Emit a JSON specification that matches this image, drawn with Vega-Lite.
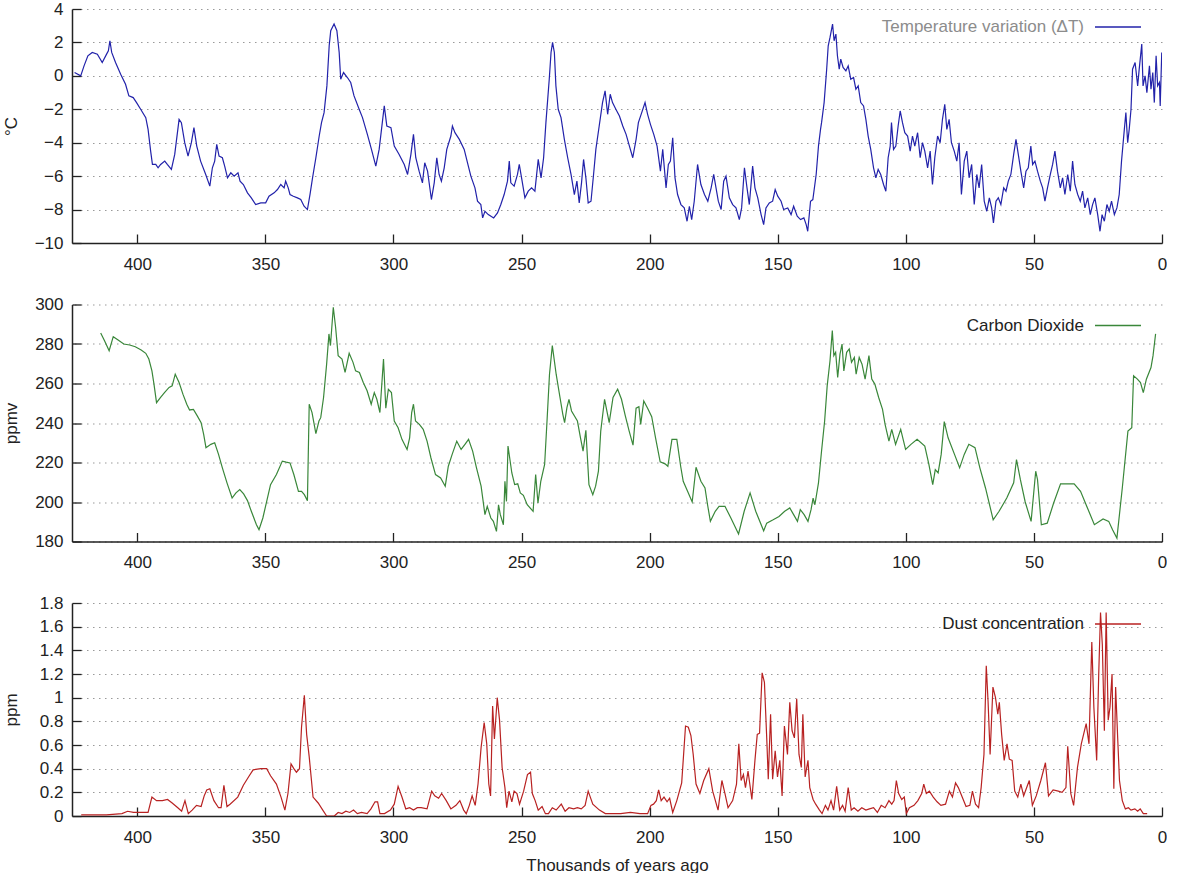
{
  "$schema": "https://vega.github.io/schema/vega-lite/v6.json",
  "background": "white",
  "padding": {"left": 2, "top": 0, "right": 0, "bottom": 0},
  "config": {
    "view": {"stroke": null},
    "font": "Liberation Sans",
    "axis": {
      "labelFont": "Liberation Sans", "labelFontSize": 17, "labelColor": "#222222",
      "titleFont": "Liberation Sans", "titleFontSize": 17, "titleFontWeight": "normal", "titleColor": "#222222",
      "domainColor": "#222222", "domainWidth": 1.5, "tickColor": "#222222", "tickWidth": 1.3, "tickSize": -9,
      "gridColor": "#9a9a9a", "gridDash": [1.5, 4.5], "gridWidth": 1.2, "labelOverlap": false, "labelFlush": false
    },
    "axisX": {"grid": false, "labelPadding": 22},
    "axisY": {"grid": true, "labelPadding": 18, "titleX": -52, "titleBaseline": "bottom", "titleAngle": -90},
    "legend": {
      "orient": "none", "legendX": 1022, "legendY": -3, "padding": 0, "symbolType": "stroke", "symbolSize": 2116,
      "symbolStrokeWidth": 1.3, "labelFont": "Liberation Sans", "labelFontSize": 17, "labelColor": "#222222",
      "labelAlign": "right", "labelOffset": -58, "labelLimit": 400
    }
  },
  "resolve": {"scale": {"color": "independent"}, "legend": {"color": "independent"}},
  "spacing": 61.5,
  "bounds": "flush",
  "datasets": {
    "temp": [
      {"age":424.5,"dT":0.2},{"age":422.1,"dT":0.0},{"age":420.8,"dT":0.6},{"age":419.3,"dT":1.2},{"age":417.6,"dT":1.4},{"age":415.6,"dT":1.3},{"age":413.7,"dT":0.8},{"age":412.0,"dT":1.3},{"age":411.3,"dT":1.5},{"age":410.7,"dT":2.1},{"age":410.0,"dT":1.4},{"age":408.5,"dT":0.8},{"age":406.5,"dT":0.1},{"age":404.6,"dT":-0.5},{"age":403.3,"dT":-1.2},{"age":401.6,"dT":-1.3},{"age":400.3,"dT":-1.6},{"age":398.7,"dT":-2.0},{"age":396.7,"dT":-2.5},{"age":395.8,"dT":-3.2},{"age":394.8,"dT":-4.5},{"age":394.1,"dT":-5.3},{"age":392.8,"dT":-5.3},{"age":391.9,"dT":-5.5},{"age":390.9,"dT":-5.3},{"age":389.3,"dT":-5.1},{"age":388.3,"dT":-5.3},{"age":386.7,"dT":-5.6},{"age":385.4,"dT":-4.7},{"age":383.7,"dT":-2.6},{"age":382.8,"dT":-2.8},{"age":381.5,"dT":-4.0},{"age":380.2,"dT":-4.8},{"age":378.9,"dT":-4.0},{"age":377.9,"dT":-3.1},{"age":376.8,"dT":-4.2},{"age":375.3,"dT":-5.1},{"age":373.3,"dT":-5.9},{"age":371.7,"dT":-6.6},{"age":370.7,"dT":-5.5},{"age":369.8,"dT":-5.1},{"age":369.0,"dT":-4.1},{"age":368.1,"dT":-4.8},{"age":366.8,"dT":-4.9},{"age":365.9,"dT":-5.4},{"age":364.8,"dT":-6.1},{"age":363.5,"dT":-5.8},{"age":362.2,"dT":-6.0},{"age":360.7,"dT":-5.8},{"age":359.9,"dT":-6.3},{"age":358.6,"dT":-6.5},{"age":357.0,"dT":-7.0},{"age":355.5,"dT":-7.3},{"age":353.8,"dT":-7.7},{"age":351.8,"dT":-7.6},{"age":349.9,"dT":-7.6},{"age":348.6,"dT":-7.2},{"age":346.6,"dT":-7.0},{"age":345.3,"dT":-6.8},{"age":344.0,"dT":-6.5},{"age":342.7,"dT":-6.7},{"age":342.1,"dT":-6.3},{"age":341.1,"dT":-6.7},{"age":340.4,"dT":-7.1},{"age":339.1,"dT":-7.2},{"age":337.5,"dT":-7.3},{"age":336.2,"dT":-7.4},{"age":334.9,"dT":-7.8},{"age":333.6,"dT":-8.0},{"age":332.6,"dT":-7.1},{"age":331.6,"dT":-6.1},{"age":330.3,"dT":-4.9},{"age":329.0,"dT":-3.6},{"age":328.1,"dT":-2.8},{"age":327.1,"dT":-2.2},{"age":326.0,"dT":-0.6},{"age":325.1,"dT":1.8},{"age":324.5,"dT":2.7},{"age":323.2,"dT":3.1},{"age":322.1,"dT":2.7},{"age":321.2,"dT":1.4},{"age":320.6,"dT":-0.2},{"age":319.5,"dT":0.2},{"age":318.0,"dT":-0.1},{"age":316.7,"dT":-0.4},{"age":315.4,"dT":-1.2},{"age":313.4,"dT":-2.0},{"age":312.1,"dT":-2.5},{"age":310.2,"dT":-3.5},{"age":308.6,"dT":-4.4},{"age":306.9,"dT":-5.4},{"age":305.6,"dT":-4.4},{"age":303.6,"dT":-1.8},{"age":302.6,"dT":-3.0},{"age":301.0,"dT":-3.1},{"age":299.7,"dT":-4.2},{"age":297.8,"dT":-4.7},{"age":295.8,"dT":-5.3},{"age":294.5,"dT":-5.9},{"age":293.2,"dT":-4.7},{"age":292.2,"dT":-3.5},{"age":291.3,"dT":-4.9},{"age":290.0,"dT":-5.7},{"age":288.7,"dT":-6.4},{"age":287.8,"dT":-5.2},{"age":286.7,"dT":-5.7},{"age":285.2,"dT":-7.4},{"age":284.1,"dT":-6.4},{"age":283.1,"dT":-4.9},{"age":282.2,"dT":-5.9},{"age":281.3,"dT":-6.3},{"age":280.2,"dT":-5.5},{"age":279.2,"dT":-4.4},{"age":277.6,"dT":-3.6},{"age":277.0,"dT":-3.0},{"age":276.0,"dT":-3.4},{"age":274.3,"dT":-3.8},{"age":272.4,"dT":-4.4},{"age":271.1,"dT":-5.2},{"age":269.8,"dT":-6.0},{"age":268.2,"dT":-6.7},{"age":267.2,"dT":-7.5},{"age":265.9,"dT":-7.7},{"age":265.2,"dT":-8.5},{"age":264.3,"dT":-8.1},{"age":263.0,"dT":-8.3},{"age":260.9,"dT":-8.5},{"age":259.4,"dT":-8.2},{"age":258.1,"dT":-7.7},{"age":256.8,"dT":-7.1},{"age":255.5,"dT":-6.3},{"age":254.8,"dT":-5.1},{"age":254.2,"dT":-6.4},{"age":252.9,"dT":-6.6},{"age":251.6,"dT":-5.9},{"age":250.9,"dT":-5.3},{"age":250.0,"dT":-6.1},{"age":248.7,"dT":-7.3},{"age":247.4,"dT":-6.9},{"age":246.1,"dT":-6.7},{"age":244.8,"dT":-6.9},{"age":243.5,"dT":-5.0},{"age":242.4,"dT":-6.1},{"age":241.4,"dT":-4.9},{"age":240.5,"dT":-2.8},{"age":239.2,"dT":-0.2},{"age":238.5,"dT":1.4},{"age":237.9,"dT":2.0},{"age":237.2,"dT":1.4},{"age":236.6,"dT":-0.6},{"age":235.7,"dT":-2.0},{"age":234.6,"dT":-2.5},{"age":233.3,"dT":-3.8},{"age":232.0,"dT":-4.9},{"age":230.7,"dT":-5.9},{"age":229.4,"dT":-7.1},{"age":228.4,"dT":-6.3},{"age":227.5,"dT":-7.6},{"age":226.6,"dT":-6.4},{"age":225.8,"dT":-5.0},{"age":224.9,"dT":-6.1},{"age":224.0,"dT":-7.6},{"age":222.9,"dT":-7.5},{"age":221.9,"dT":-5.9},{"age":221.0,"dT":-4.4},{"age":219.7,"dT":-3.0},{"age":218.4,"dT":-1.6},{"age":217.4,"dT":-0.9},{"age":216.4,"dT":-2.3},{"age":215.4,"dT":-1.1},{"age":214.5,"dT":-1.6},{"age":213.2,"dT":-2.0},{"age":211.8,"dT":-2.4},{"age":210.5,"dT":-3.0},{"age":209.2,"dT":-3.5},{"age":207.9,"dT":-4.2},{"age":206.6,"dT":-4.9},{"age":205.3,"dT":-3.8},{"age":204.4,"dT":-2.8},{"age":203.1,"dT":-2.2},{"age":201.8,"dT":-1.6},{"age":200.8,"dT":-2.3},{"age":199.7,"dT":-2.9},{"age":198.4,"dT":-3.5},{"age":197.1,"dT":-4.2},{"age":195.8,"dT":-5.7},{"age":194.9,"dT":-4.4},{"age":193.6,"dT":-6.7},{"age":192.7,"dT":-5.3},{"age":191.9,"dT":-5.1},{"age":191.0,"dT":-3.7},{"age":190.1,"dT":-6.1},{"age":189.1,"dT":-7.1},{"age":187.8,"dT":-7.7},{"age":186.5,"dT":-7.9},{"age":185.4,"dT":-8.7},{"age":184.5,"dT":-7.8},{"age":183.6,"dT":-8.6},{"age":182.6,"dT":-7.5},{"age":181.3,"dT":-5.3},{"age":180.0,"dT":-6.5},{"age":178.6,"dT":-7.1},{"age":177.3,"dT":-7.5},{"age":176.0,"dT":-6.7},{"age":175.0,"dT":-5.9},{"age":174.1,"dT":-6.7},{"age":173.2,"dT":-7.5},{"age":172.1,"dT":-8.0},{"age":171.1,"dT":-6.3},{"age":170.2,"dT":-6.0},{"age":168.9,"dT":-7.3},{"age":167.6,"dT":-7.7},{"age":166.3,"dT":-7.9},{"age":165.0,"dT":-8.6},{"age":164.1,"dT":-7.9},{"age":163.0,"dT":-5.5},{"age":162.0,"dT":-6.7},{"age":161.1,"dT":-7.7},{"age":159.8,"dT":-5.4},{"age":158.9,"dT":-6.7},{"age":157.8,"dT":-7.3},{"age":156.5,"dT":-8.3},{"age":155.5,"dT":-8.9},{"age":154.6,"dT":-7.9},{"age":153.3,"dT":-7.6},{"age":152.0,"dT":-7.5},{"age":151.0,"dT":-6.8},{"age":150.0,"dT":-7.2},{"age":148.7,"dT":-7.5},{"age":147.7,"dT":-8.0},{"age":146.1,"dT":-7.9},{"age":144.8,"dT":-8.3},{"age":143.8,"dT":-7.8},{"age":142.4,"dT":-8.4},{"age":141.1,"dT":-8.6},{"age":139.8,"dT":-8.5},{"age":138.9,"dT":-8.9},{"age":138.3,"dT":-9.3},{"age":137.2,"dT":-7.5},{"age":136.3,"dT":-7.4},{"age":135.0,"dT":-5.9},{"age":134.1,"dT":-4.2},{"age":133.3,"dT":-3.2},{"age":132.9,"dT":-2.8},{"age":131.9,"dT":-1.6},{"age":130.9,"dT":0.4},{"age":130.3,"dT":1.8},{"age":129.6,"dT":2.3},{"age":128.6,"dT":3.1},{"age":128.0,"dT":2.1},{"age":127.3,"dT":2.5},{"age":126.7,"dT":1.2},{"age":126.0,"dT":0.4},{"age":125.4,"dT":1.0},{"age":124.5,"dT":0.5},{"age":123.4,"dT":0.3},{"age":122.5,"dT":0.6},{"age":121.5,"dT":-0.2},{"age":120.4,"dT":-0.1},{"age":119.5,"dT":-0.8},{"age":118.6,"dT":-0.6},{"age":117.6,"dT":-1.6},{"age":116.5,"dT":-1.8},{"age":115.6,"dT":-2.6},{"age":114.7,"dT":-3.6},{"age":113.7,"dT":-4.4},{"age":112.6,"dT":-5.5},{"age":111.7,"dT":-6.1},{"age":110.8,"dT":-5.6},{"age":109.8,"dT":-5.9},{"age":108.7,"dT":-6.5},{"age":107.8,"dT":-6.9},{"age":106.9,"dT":-4.9},{"age":106.1,"dT":-4.2},{"age":105.6,"dT":-2.8},{"age":104.8,"dT":-4.4},{"age":103.9,"dT":-4.2},{"age":103.0,"dT":-3.0},{"age":102.2,"dT":-2.1},{"age":101.3,"dT":-2.8},{"age":100.4,"dT":-3.4},{"age":99.3,"dT":-3.6},{"age":98.3,"dT":-4.5},{"age":97.4,"dT":-3.6},{"age":96.5,"dT":-4.2},{"age":95.4,"dT":-3.4},{"age":94.4,"dT":-4.9},{"age":93.5,"dT":-4.0},{"age":92.6,"dT":-4.5},{"age":91.5,"dT":-5.5},{"age":90.5,"dT":-4.5},{"age":89.6,"dT":-6.5},{"age":88.7,"dT":-4.9},{"age":87.6,"dT":-3.6},{"age":86.6,"dT":-4.0},{"age":85.7,"dT":-2.6},{"age":84.8,"dT":-1.7},{"age":84.0,"dT":-3.2},{"age":83.1,"dT":-2.6},{"age":82.2,"dT":-4.0},{"age":81.1,"dT":-4.5},{"age":80.1,"dT":-5.1},{"age":79.2,"dT":-4.0},{"age":78.3,"dT":-7.1},{"age":77.2,"dT":-5.1},{"age":76.2,"dT":-4.5},{"age":75.3,"dT":-6.1},{"age":74.3,"dT":-5.3},{"age":73.3,"dT":-7.7},{"age":72.3,"dT":-5.9},{"age":71.4,"dT":-6.7},{"age":70.4,"dT":-5.3},{"age":69.4,"dT":-7.5},{"age":68.4,"dT":-8.1},{"age":67.4,"dT":-7.3},{"age":66.5,"dT":-7.9},{"age":65.8,"dT":-8.8},{"age":64.8,"dT":-7.5},{"age":63.9,"dT":-7.3},{"age":62.9,"dT":-7.7},{"age":61.8,"dT":-6.7},{"age":60.9,"dT":-6.9},{"age":60.0,"dT":-6.3},{"age":59.0,"dT":-5.9},{"age":57.9,"dT":-4.7},{"age":57.0,"dT":-3.8},{"age":56.1,"dT":-4.7},{"age":55.1,"dT":-5.7},{"age":54.0,"dT":-6.7},{"age":53.1,"dT":-5.7},{"age":52.2,"dT":-5.5},{"age":51.2,"dT":-4.2},{"age":50.5,"dT":-5.3},{"age":49.6,"dT":-5.1},{"age":48.6,"dT":-5.7},{"age":47.5,"dT":-6.3},{"age":46.6,"dT":-6.7},{"age":45.7,"dT":-7.5},{"age":44.7,"dT":-6.7},{"age":43.6,"dT":-5.9},{"age":42.7,"dT":-5.3},{"age":41.8,"dT":-4.5},{"age":40.8,"dT":-5.7},{"age":39.7,"dT":-6.7},{"age":38.8,"dT":-6.1},{"age":37.9,"dT":-7.1},{"age":36.8,"dT":-5.9},{"age":35.8,"dT":-6.9},{"age":34.9,"dT":-5.1},{"age":34.0,"dT":-6.5},{"age":32.9,"dT":-7.1},{"age":31.9,"dT":-7.5},{"age":31.0,"dT":-6.9},{"age":30.1,"dT":-7.9},{"age":29.0,"dT":-7.3},{"age":28.0,"dT":-8.3},{"age":27.1,"dT":-7.7},{"age":26.2,"dT":-7.3},{"age":25.1,"dT":-8.3},{"age":24.2,"dT":-9.3},{"age":23.4,"dT":-8.3},{"age":22.5,"dT":-8.7},{"age":21.5,"dT":-7.7},{"age":20.6,"dT":-8.1},{"age":19.7,"dT":-7.5},{"age":18.6,"dT":-8.3},{"age":17.6,"dT":-7.9},{"age":16.7,"dT":-7.1},{"age":15.8,"dT":-5.1},{"age":14.7,"dT":-3.2},{"age":14.1,"dT":-2.2},{"age":13.4,"dT":-4.0},{"age":12.8,"dT":-3.2},{"age":12.1,"dT":-2.0},{"age":11.5,"dT":0.4},{"age":10.5,"dT":0.8},{"age":9.5,"dT":-0.6},{"age":8.9,"dT":0.4},{"age":7.9,"dT":1.9},{"age":7.4,"dT":-0.6},{"age":6.6,"dT":0.0},{"age":5.9,"dT":-1.0},{"age":4.9,"dT":0.6},{"age":4.3,"dT":-0.8},{"age":3.6,"dT":0.2},{"age":3.0,"dT":-1.6},{"age":2.3,"dT":1.2},{"age":1.7,"dT":-0.6},{"age":1.0,"dT":-0.4},{"age":0.7,"dT":-1.8},{"age":0.1,"dT":1.4}
    ],
    "co2": [
      {"age":414.3,"ppmv":285.6},{"age":412.8,"ppmv":281.7},{"age":411.0,"ppmv":276.6},{"age":409.4,"ppmv":283.7},{"age":407.5,"ppmv":282.0},{"age":405.3,"ppmv":280.0},{"age":403.0,"ppmv":279.5},{"age":400.8,"ppmv":278.6},{"age":398.5,"ppmv":277.0},{"age":396.7,"ppmv":275.3},{"age":395.5,"ppmv":272.4},{"age":394.3,"ppmv":266.4},{"age":393.5,"ppmv":259.7},{"age":392.5,"ppmv":250.3},{"age":391.0,"ppmv":252.9},{"age":389.4,"ppmv":255.4},{"age":387.6,"ppmv":258.0},{"age":386.4,"ppmv":258.8},{"age":385.2,"ppmv":264.7},{"age":383.7,"ppmv":260.5},{"age":382.2,"ppmv":254.6},{"age":380.7,"ppmv":249.5},{"age":379.6,"ppmv":246.6},{"age":378.1,"ppmv":246.9},{"age":376.6,"ppmv":243.6},{"age":375.1,"ppmv":240.2},{"age":374.1,"ppmv":234.2},{"age":373.2,"ppmv":227.5},{"age":371.3,"ppmv":229.2},{"age":369.8,"ppmv":230.0},{"age":368.3,"ppmv":224.1},{"age":366.8,"ppmv":217.3},{"age":365.0,"ppmv":209.7},{"age":363.0,"ppmv":202.0},{"age":361.5,"ppmv":204.6},{"age":360.0,"ppmv":206.3},{"age":358.5,"ppmv":204.1},{"age":357.0,"ppmv":200.7},{"age":355.5,"ppmv":195.3},{"age":353.5,"ppmv":188.5},{"age":352.5,"ppmv":186.0},{"age":351.0,"ppmv":191.9},{"age":349.5,"ppmv":200.3},{"age":348.0,"ppmv":208.8},{"age":345.7,"ppmv":213.9},{"age":343.4,"ppmv":220.7},{"age":341.9,"ppmv":220.2},{"age":340.4,"ppmv":219.8},{"age":338.9,"ppmv":213.9},{"age":337.1,"ppmv":205.4},{"age":335.9,"ppmv":205.4},{"age":334.8,"ppmv":203.7},{"age":333.6,"ppmv":200.7},{"age":332.9,"ppmv":249.5},{"age":331.8,"ppmv":245.3},{"age":330.3,"ppmv":234.6},{"age":329.1,"ppmv":241.0},{"age":328.4,"ppmv":242.7},{"age":327.3,"ppmv":252.9},{"age":326.1,"ppmv":269.8},{"age":325.2,"ppmv":285.1},{"age":324.6,"ppmv":279.2},{"age":323.5,"ppmv":298.6},{"age":322.6,"ppmv":288.5},{"age":321.6,"ppmv":274.1},{"age":320.1,"ppmv":272.4},{"age":318.9,"ppmv":265.6},{"age":317.3,"ppmv":275.3},{"age":315.8,"ppmv":270.7},{"age":314.8,"ppmv":266.4},{"age":313.3,"ppmv":265.6},{"age":311.8,"ppmv":260.5},{"age":310.3,"ppmv":256.3},{"age":308.7,"ppmv":249.5},{"age":307.5,"ppmv":255.4},{"age":306.5,"ppmv":252.0},{"age":305.3,"ppmv":245.3},{"age":303.9,"ppmv":272.4},{"age":303.0,"ppmv":247.5},{"age":302.0,"ppmv":257.1},{"age":300.8,"ppmv":255.4},{"age":299.7,"ppmv":241.0},{"age":298.2,"ppmv":237.6},{"age":296.7,"ppmv":231.7},{"age":294.7,"ppmv":226.6},{"age":293.7,"ppmv":232.5},{"age":292.9,"ppmv":245.3},{"age":292.2,"ppmv":249.5},{"age":291.4,"ppmv":241.0},{"age":289.9,"ppmv":239.3},{"age":288.4,"ppmv":236.8},{"age":286.9,"ppmv":230.8},{"age":285.4,"ppmv":222.4},{"age":283.6,"ppmv":213.9},{"age":281.6,"ppmv":212.2},{"age":279.8,"ppmv":208.0},{"age":278.6,"ppmv":218.1},{"age":277.1,"ppmv":224.1},{"age":275.3,"ppmv":230.8},{"age":273.6,"ppmv":226.6},{"age":272.1,"ppmv":229.2},{"age":270.7,"ppmv":231.7},{"age":269.1,"ppmv":225.8},{"age":267.6,"ppmv":217.3},{"age":265.8,"ppmv":208.0},{"age":264.3,"ppmv":193.6},{"age":263.4,"ppmv":197.8},{"age":262.0,"ppmv":191.9},{"age":261.0,"ppmv":190.2},{"age":259.8,"ppmv":185.1},{"age":259.0,"ppmv":198.6},{"age":258.3,"ppmv":193.6},{"age":257.1,"ppmv":188.5},{"age":256.5,"ppmv":210.5},{"age":255.9,"ppmv":200.3},{"age":255.3,"ppmv":228.3},{"age":253.8,"ppmv":214.7},{"age":252.7,"ppmv":208.8},{"age":251.5,"ppmv":209.2},{"age":250.5,"ppmv":204.6},{"age":249.3,"ppmv":203.4},{"age":247.8,"ppmv":198.6},{"age":245.5,"ppmv":195.3},{"age":244.5,"ppmv":213.9},{"age":243.6,"ppmv":199.5},{"age":242.5,"ppmv":210.5},{"age":241.0,"ppmv":219.0},{"age":240.0,"ppmv":242.7},{"age":239.1,"ppmv":264.7},{"age":238.0,"ppmv":279.2},{"age":236.5,"ppmv":264.7},{"age":235.0,"ppmv":252.9},{"age":233.9,"ppmv":244.4},{"age":233.2,"ppmv":240.2},{"age":232.3,"ppmv":247.8},{"age":231.5,"ppmv":252.0},{"age":230.5,"ppmv":246.1},{"age":228.2,"ppmv":241.0},{"age":227.0,"ppmv":232.5},{"age":226.0,"ppmv":225.8},{"age":224.9,"ppmv":236.3},{"age":223.7,"ppmv":208.8},{"age":222.2,"ppmv":203.7},{"age":221.1,"ppmv":208.0},{"age":220.0,"ppmv":215.6},{"age":219.1,"ppmv":235.9},{"age":217.6,"ppmv":252.0},{"age":215.8,"ppmv":240.2},{"age":214.3,"ppmv":252.9},{"age":212.5,"ppmv":257.1},{"age":211.0,"ppmv":252.0},{"age":209.5,"ppmv":243.6},{"age":208.0,"ppmv":235.9},{"age":206.5,"ppmv":228.8},{"age":205.3,"ppmv":247.5},{"age":204.2,"ppmv":248.3},{"age":203.5,"ppmv":239.3},{"age":202.3,"ppmv":251.2},{"age":200.8,"ppmv":247.5},{"age":199.2,"ppmv":243.2},{"age":197.7,"ppmv":232.5},{"age":195.9,"ppmv":220.3},{"age":194.0,"ppmv":219.3},{"age":192.9,"ppmv":218.1},{"age":191.3,"ppmv":231.7},{"age":189.4,"ppmv":231.7},{"age":187.9,"ppmv":218.1},{"age":186.9,"ppmv":210.5},{"age":185.2,"ppmv":205.4},{"age":183.4,"ppmv":200.0},{"age":181.9,"ppmv":217.6},{"age":180.0,"ppmv":210.5},{"age":178.4,"ppmv":207.1},{"age":177.4,"ppmv":198.6},{"age":176.3,"ppmv":190.2},{"age":174.4,"ppmv":195.3},{"age":172.9,"ppmv":197.8},{"age":170.6,"ppmv":197.8},{"age":168.3,"ppmv":191.9},{"age":165.3,"ppmv":183.8},{"age":163.1,"ppmv":195.3},{"age":160.8,"ppmv":204.6},{"age":158.6,"ppmv":195.3},{"age":155.5,"ppmv":185.4},{"age":154.3,"ppmv":189.3},{"age":151.8,"ppmv":191.0},{"age":149.5,"ppmv":192.7},{"age":147.3,"ppmv":195.3},{"age":145.3,"ppmv":197.0},{"age":143.8,"ppmv":193.6},{"age":142.3,"ppmv":190.2},{"age":141.2,"ppmv":196.1},{"age":139.7,"ppmv":193.6},{"age":138.2,"ppmv":190.2},{"age":137.0,"ppmv":196.1},{"age":136.2,"ppmv":202.0},{"age":135.5,"ppmv":198.6},{"age":134.1,"ppmv":209.7},{"age":132.9,"ppmv":225.8},{"age":131.7,"ppmv":241.0},{"age":130.7,"ppmv":258.8},{"age":129.6,"ppmv":271.5},{"age":128.7,"ppmv":286.8},{"age":128.1,"ppmv":274.1},{"age":127.4,"ppmv":275.8},{"age":126.6,"ppmv":263.1},{"age":125.7,"ppmv":274.9},{"age":124.9,"ppmv":280.0},{"age":124.2,"ppmv":266.4},{"age":123.1,"ppmv":275.8},{"age":122.1,"ppmv":277.5},{"age":121.2,"ppmv":270.7},{"age":120.1,"ppmv":273.2},{"age":119.4,"ppmv":264.7},{"age":118.2,"ppmv":273.2},{"age":117.1,"ppmv":269.8},{"age":115.9,"ppmv":262.2},{"age":114.4,"ppmv":274.1},{"age":113.3,"ppmv":262.2},{"age":112.1,"ppmv":259.7},{"age":110.6,"ppmv":252.9},{"age":109.1,"ppmv":246.9},{"age":108.1,"ppmv":239.3},{"age":106.6,"ppmv":230.8},{"age":105.5,"ppmv":236.8},{"age":104.0,"ppmv":229.2},{"age":102.0,"ppmv":236.8},{"age":100.1,"ppmv":226.6},{"age":98.0,"ppmv":229.2},{"age":95.6,"ppmv":231.7},{"age":92.6,"ppmv":228.3},{"age":91.0,"ppmv":219.0},{"age":89.5,"ppmv":208.8},{"age":88.5,"ppmv":216.4},{"age":87.4,"ppmv":214.7},{"age":86.2,"ppmv":224.1},{"age":85.0,"ppmv":240.7},{"age":83.5,"ppmv":232.5},{"age":81.0,"ppmv":224.1},{"age":79.0,"ppmv":217.3},{"age":77.2,"ppmv":224.1},{"age":75.4,"ppmv":229.2},{"age":73.0,"ppmv":227.5},{"age":71.1,"ppmv":217.3},{"age":68.9,"ppmv":207.1},{"age":65.9,"ppmv":191.0},{"age":63.6,"ppmv":195.3},{"age":60.6,"ppmv":202.0},{"age":57.9,"ppmv":209.7},{"age":56.8,"ppmv":221.5},{"age":55.3,"ppmv":211.4},{"age":53.4,"ppmv":200.0},{"age":51.1,"ppmv":190.2},{"age":49.3,"ppmv":215.6},{"age":48.6,"ppmv":211.4},{"age":47.1,"ppmv":188.5},{"age":44.8,"ppmv":189.3},{"age":42.3,"ppmv":199.5},{"age":39.6,"ppmv":209.2},{"age":34.3,"ppmv":209.2},{"age":31.8,"ppmv":205.4},{"age":29.1,"ppmv":197.0},{"age":26.4,"ppmv":188.5},{"age":23.0,"ppmv":191.4},{"age":20.8,"ppmv":190.2},{"age":19.3,"ppmv":185.9},{"age":17.6,"ppmv":181.7},{"age":15.5,"ppmv":207.1},{"age":13.3,"ppmv":235.9},{"age":11.8,"ppmv":237.6},{"age":11.1,"ppmv":263.9},{"age":9.6,"ppmv":262.2},{"age":8.4,"ppmv":260.5},{"age":7.3,"ppmv":255.4},{"age":6.1,"ppmv":262.2},{"age":4.3,"ppmv":268.1},{"age":3.5,"ppmv":274.1},{"age":2.5,"ppmv":285.1}
    ],
    "dust": [
      {"age":421.9,"ppm":0.01},{"age":418.1,"ppm":0.01},{"age":412.1,"ppm":0.01},{"age":406.0,"ppm":0.02},{"age":403.8,"ppm":0.04},{"age":401.5,"ppm":0.03},{"age":400.0,"ppm":0.03},{"age":395.8,"ppm":0.03},{"age":394.3,"ppm":0.16},{"age":392.5,"ppm":0.13},{"age":390.2,"ppm":0.13},{"age":388.2,"ppm":0.14},{"age":386.4,"ppm":0.11},{"age":384.2,"ppm":0.07},{"age":382.7,"ppm":0.04},{"age":381.4,"ppm":0.13},{"age":380.1,"ppm":0.02},{"age":378.6,"ppm":0.05},{"age":376.9,"ppm":0.09},{"age":375.1,"ppm":0.08},{"age":373.9,"ppm":0.17},{"age":372.9,"ppm":0.22},{"age":371.7,"ppm":0.23},{"age":370.1,"ppm":0.13},{"age":368.3,"ppm":0.07},{"age":367.3,"ppm":0.07},{"age":366.2,"ppm":0.26},{"age":365.0,"ppm":0.08},{"age":363.8,"ppm":0.10},{"age":360.8,"ppm":0.16},{"age":358.6,"ppm":0.26},{"age":356.3,"ppm":0.34},{"age":354.8,"ppm":0.39},{"age":351.8,"ppm":0.40},{"age":349.5,"ppm":0.40},{"age":348.0,"ppm":0.34},{"age":345.7,"ppm":0.27},{"age":343.9,"ppm":0.16},{"age":342.4,"ppm":0.05},{"age":341.2,"ppm":0.19},{"age":340.0,"ppm":0.44},{"age":338.9,"ppm":0.40},{"age":337.9,"ppm":0.37},{"age":336.7,"ppm":0.40},{"age":335.9,"ppm":0.75},{"age":334.8,"ppm":1.02},{"age":333.9,"ppm":0.69},{"age":332.9,"ppm":0.50},{"age":331.4,"ppm":0.16},{"age":329.4,"ppm":0.11},{"age":327.6,"ppm":0.05},{"age":326.1,"ppm":0.0},{"age":323.1,"ppm":0.0},{"age":321.6,"ppm":0.03},{"age":320.1,"ppm":0.02},{"age":318.6,"ppm":0.04},{"age":317.1,"ppm":0.03},{"age":315.6,"ppm":0.05},{"age":314.1,"ppm":0.02},{"age":312.5,"ppm":0.03},{"age":310.3,"ppm":0.02},{"age":308.8,"ppm":0.06},{"age":307.2,"ppm":0.12},{"age":306.2,"ppm":0.12},{"age":305.3,"ppm":0.02},{"age":303.5,"ppm":0.02},{"age":301.2,"ppm":0.05},{"age":299.7,"ppm":0.10},{"age":298.2,"ppm":0.25},{"age":296.7,"ppm":0.16},{"age":295.2,"ppm":0.06},{"age":293.7,"ppm":0.07},{"age":292.2,"ppm":0.05},{"age":290.7,"ppm":0.07},{"age":289.2,"ppm":0.07},{"age":286.9,"ppm":0.06},{"age":285.1,"ppm":0.21},{"age":283.9,"ppm":0.17},{"age":282.4,"ppm":0.15},{"age":281.2,"ppm":0.19},{"age":279.4,"ppm":0.13},{"age":277.6,"ppm":0.06},{"age":275.6,"ppm":0.09},{"age":274.1,"ppm":0.13},{"age":272.6,"ppm":0.05},{"age":271.6,"ppm":0.02},{"age":270.4,"ppm":0.09},{"age":269.3,"ppm":0.17},{"age":268.1,"ppm":0.09},{"age":267.0,"ppm":0.27},{"age":265.8,"ppm":0.58},{"age":264.6,"ppm":0.79},{"age":263.6,"ppm":0.61},{"age":262.8,"ppm":0.27},{"age":262.1,"ppm":0.17},{"age":261.3,"ppm":0.93},{"age":260.6,"ppm":0.65},{"age":259.5,"ppm":1.00},{"age":258.6,"ppm":0.81},{"age":257.6,"ppm":0.41},{"age":256.5,"ppm":0.24},{"age":255.8,"ppm":0.07},{"age":254.9,"ppm":0.21},{"age":253.8,"ppm":0.12},{"age":252.9,"ppm":0.21},{"age":251.8,"ppm":0.19},{"age":250.8,"ppm":0.10},{"age":249.2,"ppm":0.21},{"age":247.7,"ppm":0.35},{"age":246.5,"ppm":0.37},{"age":245.8,"ppm":0.19},{"age":244.7,"ppm":0.13},{"age":243.5,"ppm":0.05},{"age":242.0,"ppm":0.08},{"age":240.7,"ppm":0.02},{"age":239.5,"ppm":0.02},{"age":238.0,"ppm":0.07},{"age":236.5,"ppm":0.05},{"age":234.5,"ppm":0.10},{"age":233.0,"ppm":0.04},{"age":231.5,"ppm":0.07},{"age":229.7,"ppm":0.06},{"age":228.2,"ppm":0.07},{"age":226.7,"ppm":0.06},{"age":225.2,"ppm":0.09},{"age":224.0,"ppm":0.21},{"age":222.2,"ppm":0.10},{"age":219.6,"ppm":0.05},{"age":217.3,"ppm":0.02},{"age":214.3,"ppm":0.02},{"age":211.3,"ppm":0.02},{"age":207.5,"ppm":0.03},{"age":203.8,"ppm":0.02},{"age":200.8,"ppm":0.02},{"age":199.5,"ppm":0.09},{"age":198.5,"ppm":0.10},{"age":197.4,"ppm":0.13},{"age":196.5,"ppm":0.22},{"age":195.5,"ppm":0.13},{"age":194.4,"ppm":0.16},{"age":193.2,"ppm":0.12},{"age":192.2,"ppm":0.15},{"age":191.0,"ppm":0.03},{"age":189.4,"ppm":0.13},{"age":187.5,"ppm":0.28},{"age":186.0,"ppm":0.76},{"age":184.9,"ppm":0.75},{"age":183.9,"ppm":0.68},{"age":183.0,"ppm":0.52},{"age":181.9,"ppm":0.27},{"age":180.4,"ppm":0.19},{"age":178.9,"ppm":0.30},{"age":176.9,"ppm":0.40},{"age":175.4,"ppm":0.21},{"age":173.3,"ppm":0.05},{"age":171.8,"ppm":0.30},{"age":170.6,"ppm":0.19},{"age":169.4,"ppm":0.07},{"age":167.6,"ppm":0.13},{"age":166.1,"ppm":0.27},{"age":165.2,"ppm":0.61},{"age":164.3,"ppm":0.30},{"age":163.4,"ppm":0.35},{"age":162.6,"ppm":0.24},{"age":161.6,"ppm":0.38},{"age":160.1,"ppm":0.14},{"age":158.9,"ppm":0.47},{"age":158.0,"ppm":0.69},{"age":157.1,"ppm":0.70},{"age":156.1,"ppm":1.21},{"age":155.2,"ppm":1.13},{"age":154.3,"ppm":0.66},{"age":153.7,"ppm":0.31},{"age":152.8,"ppm":0.86},{"age":152.0,"ppm":0.31},{"age":151.0,"ppm":0.55},{"age":150.1,"ppm":0.33},{"age":149.2,"ppm":0.47},{"age":148.3,"ppm":0.17},{"age":147.4,"ppm":0.76},{"age":146.2,"ppm":0.52},{"age":145.3,"ppm":0.96},{"age":144.4,"ppm":0.72},{"age":143.5,"ppm":0.66},{"age":142.6,"ppm":0.99},{"age":141.7,"ppm":0.52},{"age":140.8,"ppm":0.41},{"age":140.2,"ppm":0.86},{"age":139.3,"ppm":0.33},{"age":138.2,"ppm":0.47},{"age":137.5,"ppm":0.24},{"age":136.2,"ppm":0.14},{"age":135.2,"ppm":0.10},{"age":133.7,"ppm":0.05},{"age":132.7,"ppm":0.02},{"age":131.4,"ppm":0.09},{"age":130.4,"ppm":0.05},{"age":129.2,"ppm":0.13},{"age":128.2,"ppm":0.05},{"age":127.0,"ppm":0.25},{"age":125.8,"ppm":0.05},{"age":124.7,"ppm":0.09},{"age":123.7,"ppm":0.04},{"age":122.5,"ppm":0.24},{"age":121.3,"ppm":0.05},{"age":120.2,"ppm":0.07},{"age":118.7,"ppm":0.04},{"age":117.2,"ppm":0.07},{"age":115.6,"ppm":0.05},{"age":114.2,"ppm":0.06},{"age":112.6,"ppm":0.07},{"age":111.1,"ppm":0.03},{"age":109.6,"ppm":0.09},{"age":108.1,"ppm":0.07},{"age":106.6,"ppm":0.13},{"age":105.5,"ppm":0.10},{"age":104.6,"ppm":0.13},{"age":103.7,"ppm":0.30},{"age":102.8,"ppm":0.19},{"age":101.6,"ppm":0.14},{"age":100.6,"ppm":0.16},{"age":99.8,"ppm":0.02},{"age":98.6,"ppm":0.07},{"age":96.8,"ppm":0.09},{"age":95.3,"ppm":0.13},{"age":93.8,"ppm":0.19},{"age":93.0,"ppm":0.27},{"age":92.0,"ppm":0.19},{"age":90.8,"ppm":0.21},{"age":89.3,"ppm":0.16},{"age":87.8,"ppm":0.12},{"age":86.3,"ppm":0.09},{"age":84.5,"ppm":0.10},{"age":83.0,"ppm":0.21},{"age":81.8,"ppm":0.16},{"age":80.6,"ppm":0.28},{"age":79.5,"ppm":0.24},{"age":78.0,"ppm":0.16},{"age":76.5,"ppm":0.08},{"age":75.0,"ppm":0.09},{"age":74.0,"ppm":0.21},{"age":72.8,"ppm":0.10},{"age":71.6,"ppm":0.07},{"age":70.6,"ppm":0.24},{"age":69.5,"ppm":0.52},{"age":68.6,"ppm":1.27},{"age":67.9,"ppm":0.97},{"age":67.1,"ppm":0.52},{"age":66.0,"ppm":1.09},{"age":65.0,"ppm":1.00},{"age":64.1,"ppm":0.86},{"age":63.5,"ppm":0.96},{"age":62.6,"ppm":0.69},{"age":61.6,"ppm":0.47},{"age":60.5,"ppm":0.61},{"age":59.6,"ppm":0.48},{"age":58.5,"ppm":0.47},{"age":57.5,"ppm":0.21},{"age":56.3,"ppm":0.16},{"age":55.1,"ppm":0.27},{"age":54.0,"ppm":0.17},{"age":53.0,"ppm":0.23},{"age":51.8,"ppm":0.30},{"age":50.6,"ppm":0.09},{"age":49.1,"ppm":0.17},{"age":47.3,"ppm":0.30},{"age":45.5,"ppm":0.45},{"age":44.3,"ppm":0.17},{"age":42.5,"ppm":0.22},{"age":40.5,"ppm":0.21},{"age":39.0,"ppm":0.20},{"age":37.5,"ppm":0.24},{"age":36.8,"ppm":0.59},{"age":35.6,"ppm":0.19},{"age":34.5,"ppm":0.09},{"age":33.0,"ppm":0.41},{"age":31.5,"ppm":0.61},{"age":29.6,"ppm":0.78},{"age":28.5,"ppm":0.61},{"age":27.4,"ppm":1.47},{"age":26.6,"ppm":0.92},{"age":25.5,"ppm":0.47},{"age":24.7,"ppm":1.20},{"age":24.0,"ppm":1.72},{"age":23.3,"ppm":1.45},{"age":22.5,"ppm":0.72},{"age":21.8,"ppm":1.72},{"age":21.0,"ppm":0.81},{"age":20.3,"ppm":0.92},{"age":19.5,"ppm":1.20},{"age":18.8,"ppm":0.23},{"age":18.1,"ppm":1.09},{"age":17.3,"ppm":0.66},{"age":16.6,"ppm":0.30},{"age":15.5,"ppm":0.13},{"age":14.3,"ppm":0.06},{"age":13.1,"ppm":0.07},{"age":12.1,"ppm":0.05},{"age":10.6,"ppm":0.06},{"age":9.5,"ppm":0.04},{"age":8.5,"ppm":0.06},{"age":7.3,"ppm":0.02},{"age":5.8,"ppm":0.02}
    ]
  },
  "vconcat": [
    {
      "width": 1090, "height": 234,
      "data": {"name": "temp"},
      "mark": {"type": "line", "strokeWidth": 1.2, "clip": true},
      "encoding": {
        "x": {"field": "age", "type": "quantitative", "sort": null,
              "scale": {"domain": [0, 425.5], "reverse": true, "nice": false, "zero": false},
              "axis": {"values": [400, 350, 300, 250, 200, 150, 100, 50, 0], "title": null}},
        "y": {"field": "dT", "type": "quantitative",
              "scale": {"domain": [-10, 4], "nice": false, "zero": false},
              "axis": {"values": [-10, -8, -6, -4, -2, 0, 2, 4], "title": "°C"}},
        "color": {"datum": "Temperature variation (ΔT)", "type": "nominal",
                  "scale": {"range": ["#2222aa"]},
                  "legend": {"title": null, "labelColor": "#8c8c8c", "legendY": -6}}
      }
    },
    {
      "width": 1090, "height": 237,
      "data": {"name": "co2"},
      "mark": {"type": "line", "strokeWidth": 1.2, "clip": true},
      "encoding": {
        "x": {"field": "age", "type": "quantitative", "sort": null,
              "scale": {"domain": [0, 425.5], "reverse": true, "nice": false, "zero": false},
              "axis": {"values": [400, 350, 300, 250, 200, 150, 100, 50, 0], "title": null}},
        "y": {"field": "ppmv", "type": "quantitative",
              "scale": {"domain": [180, 300], "nice": false, "zero": false},
              "axis": {"values": [180, 200, 220, 240, 260, 280, 300], "title": "ppmv"}},
        "color": {"datum": "Carbon Dioxide", "type": "nominal",
                  "scale": {"range": ["#3a873a"]},
                  "legend": {"title": null}}
      }
    },
    {
      "width": 1090, "height": 213,
      "data": {"name": "dust"},
      "mark": {"type": "line", "strokeWidth": 1.2, "clip": true},
      "encoding": {
        "x": {"field": "age", "type": "quantitative", "sort": null,
              "scale": {"domain": [0, 425.5], "reverse": true, "nice": false, "zero": false},
              "axis": {"values": [400, 350, 300, 250, 200, 150, 100, 50, 0], "title": "Thousands of years ago", "titlePadding": 12}},
        "y": {"field": "ppm", "type": "quantitative",
              "scale": {"domain": [0, 1.8], "nice": false, "zero": false},
              "axis": {"values": [0, 0.2, 0.4, 0.6, 0.8, 1, 1.2, 1.4, 1.6, 1.8], "format": "~f", "title": "ppm"}},
        "color": {"datum": "Dust concentration", "type": "nominal",
                  "scale": {"range": ["#b82222"]},
                  "legend": {"title": null}}
      }
    }
  ]
}
